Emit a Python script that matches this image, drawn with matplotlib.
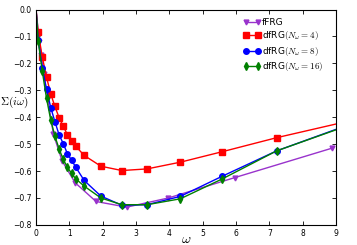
import matplotlib
matplotlib.use("Agg")
import matplotlib.pyplot as plt

plt.rcParams["mathtext.fontset"] = "cm"
plt.rcParams["font.family"] = "DejaVu Sans"

# Matsubara grid for the dfRG runs
w_df = [0, 0.063, 0.188, 0.314, 0.44, 0.565, 0.69, 0.817, 0.942, 1.068,
        1.194, 1.445, 1.947, 2.575, 3.33, 4.33, 5.59, 7.22, 9.36]
sig_n4 = [0, -0.084, -0.177, -0.251, -0.313, -0.360, -0.401, -0.434, -0.465,
          -0.487, -0.508, -0.542, -0.582, -0.598, -0.592, -0.567, -0.528,
          -0.476, -0.415]
sig_n8 = [0, -0.113, -0.216, -0.296, -0.364, -0.416, -0.465, -0.498, -0.536,
          -0.560, -0.586, -0.635, -0.693, -0.727, -0.725, -0.694, -0.619,
          -0.525, -0.429]
sig_n16 = [0, -0.115, -0.23, -0.33, -0.41, -0.47, -0.517, -0.557, -0.586,
           -0.609, -0.629, -0.656, -0.70, -0.725, -0.725, -0.703, -0.629,
           -0.525, -0.431]

# fFRG on its own grid
w_ff = [0, 0.068, 0.103, 0.154, 0.23, 0.35, 0.52, 0.78, 1.17, 1.8, 2.72,
        3.97, 5.97, 8.88]
sig_ff = [0, -0.085, -0.12, -0.17, -0.24, -0.33, -0.462, -0.562, -0.643,
          -0.713, -0.734, -0.70, -0.624, -0.515]

fig = plt.figure(figsize=(3.57, 2.45), dpi=100)
ax = fig.add_axes([0.101, 0.082, 0.840, 0.879])

skip = slice(1, None)
ax.plot(w_ff, sig_ff, color="#9933cc", marker="v", ms=3.5, lw=1,
        markevery=skip, label="fFRG")
ax.plot(w_df, sig_n4, color="r", marker="s", ms=4, lw=1, mec="r",
        markevery=skip, label=r"dfRG$(N_\omega=4)$")
ax.plot(w_df, sig_n8, color="b", marker="o", ms=4, lw=1, mec="b",
        markevery=skip, label=r"dfRG$(N_\omega=8)$")
ax.plot(w_df, sig_n16, color="g", marker="d", ms=4, lw=1, mec="g",
        markevery=skip, label=r"dfRG$(N_\omega=16)$")

ax.set_xlim(0, 9)
ax.set_ylim(-0.8, 0)
ax.set_yticks([0, -0.1, -0.2, -0.3, -0.4, -0.5, -0.6, -0.7, -0.8])
ax.tick_params(direction="in", top=True, right=True, labelsize=5.5,
               length=3, width=0.6, pad=3)
for s in ax.spines.values():
    s.set_linewidth(0.8)

ax.set_xlabel(r"$\omega$", fontsize=10)
ax.xaxis.set_label_coords(0.5, -0.035)
ax.set_ylabel(r"$\Sigma(i\omega)$", fontsize=8, rotation=0, va="center")
ax.yaxis.set_label_coords(-0.073, 0.57)

ax.legend(loc="upper right", bbox_to_anchor=(0.975, 0.985), frameon=False,
          numpoints=2, fontsize=6.5, handlelength=2.0, handletextpad=0.1,
          labelspacing=0.25, borderaxespad=0.2)

fig.savefig("out.png", dpi=100)
